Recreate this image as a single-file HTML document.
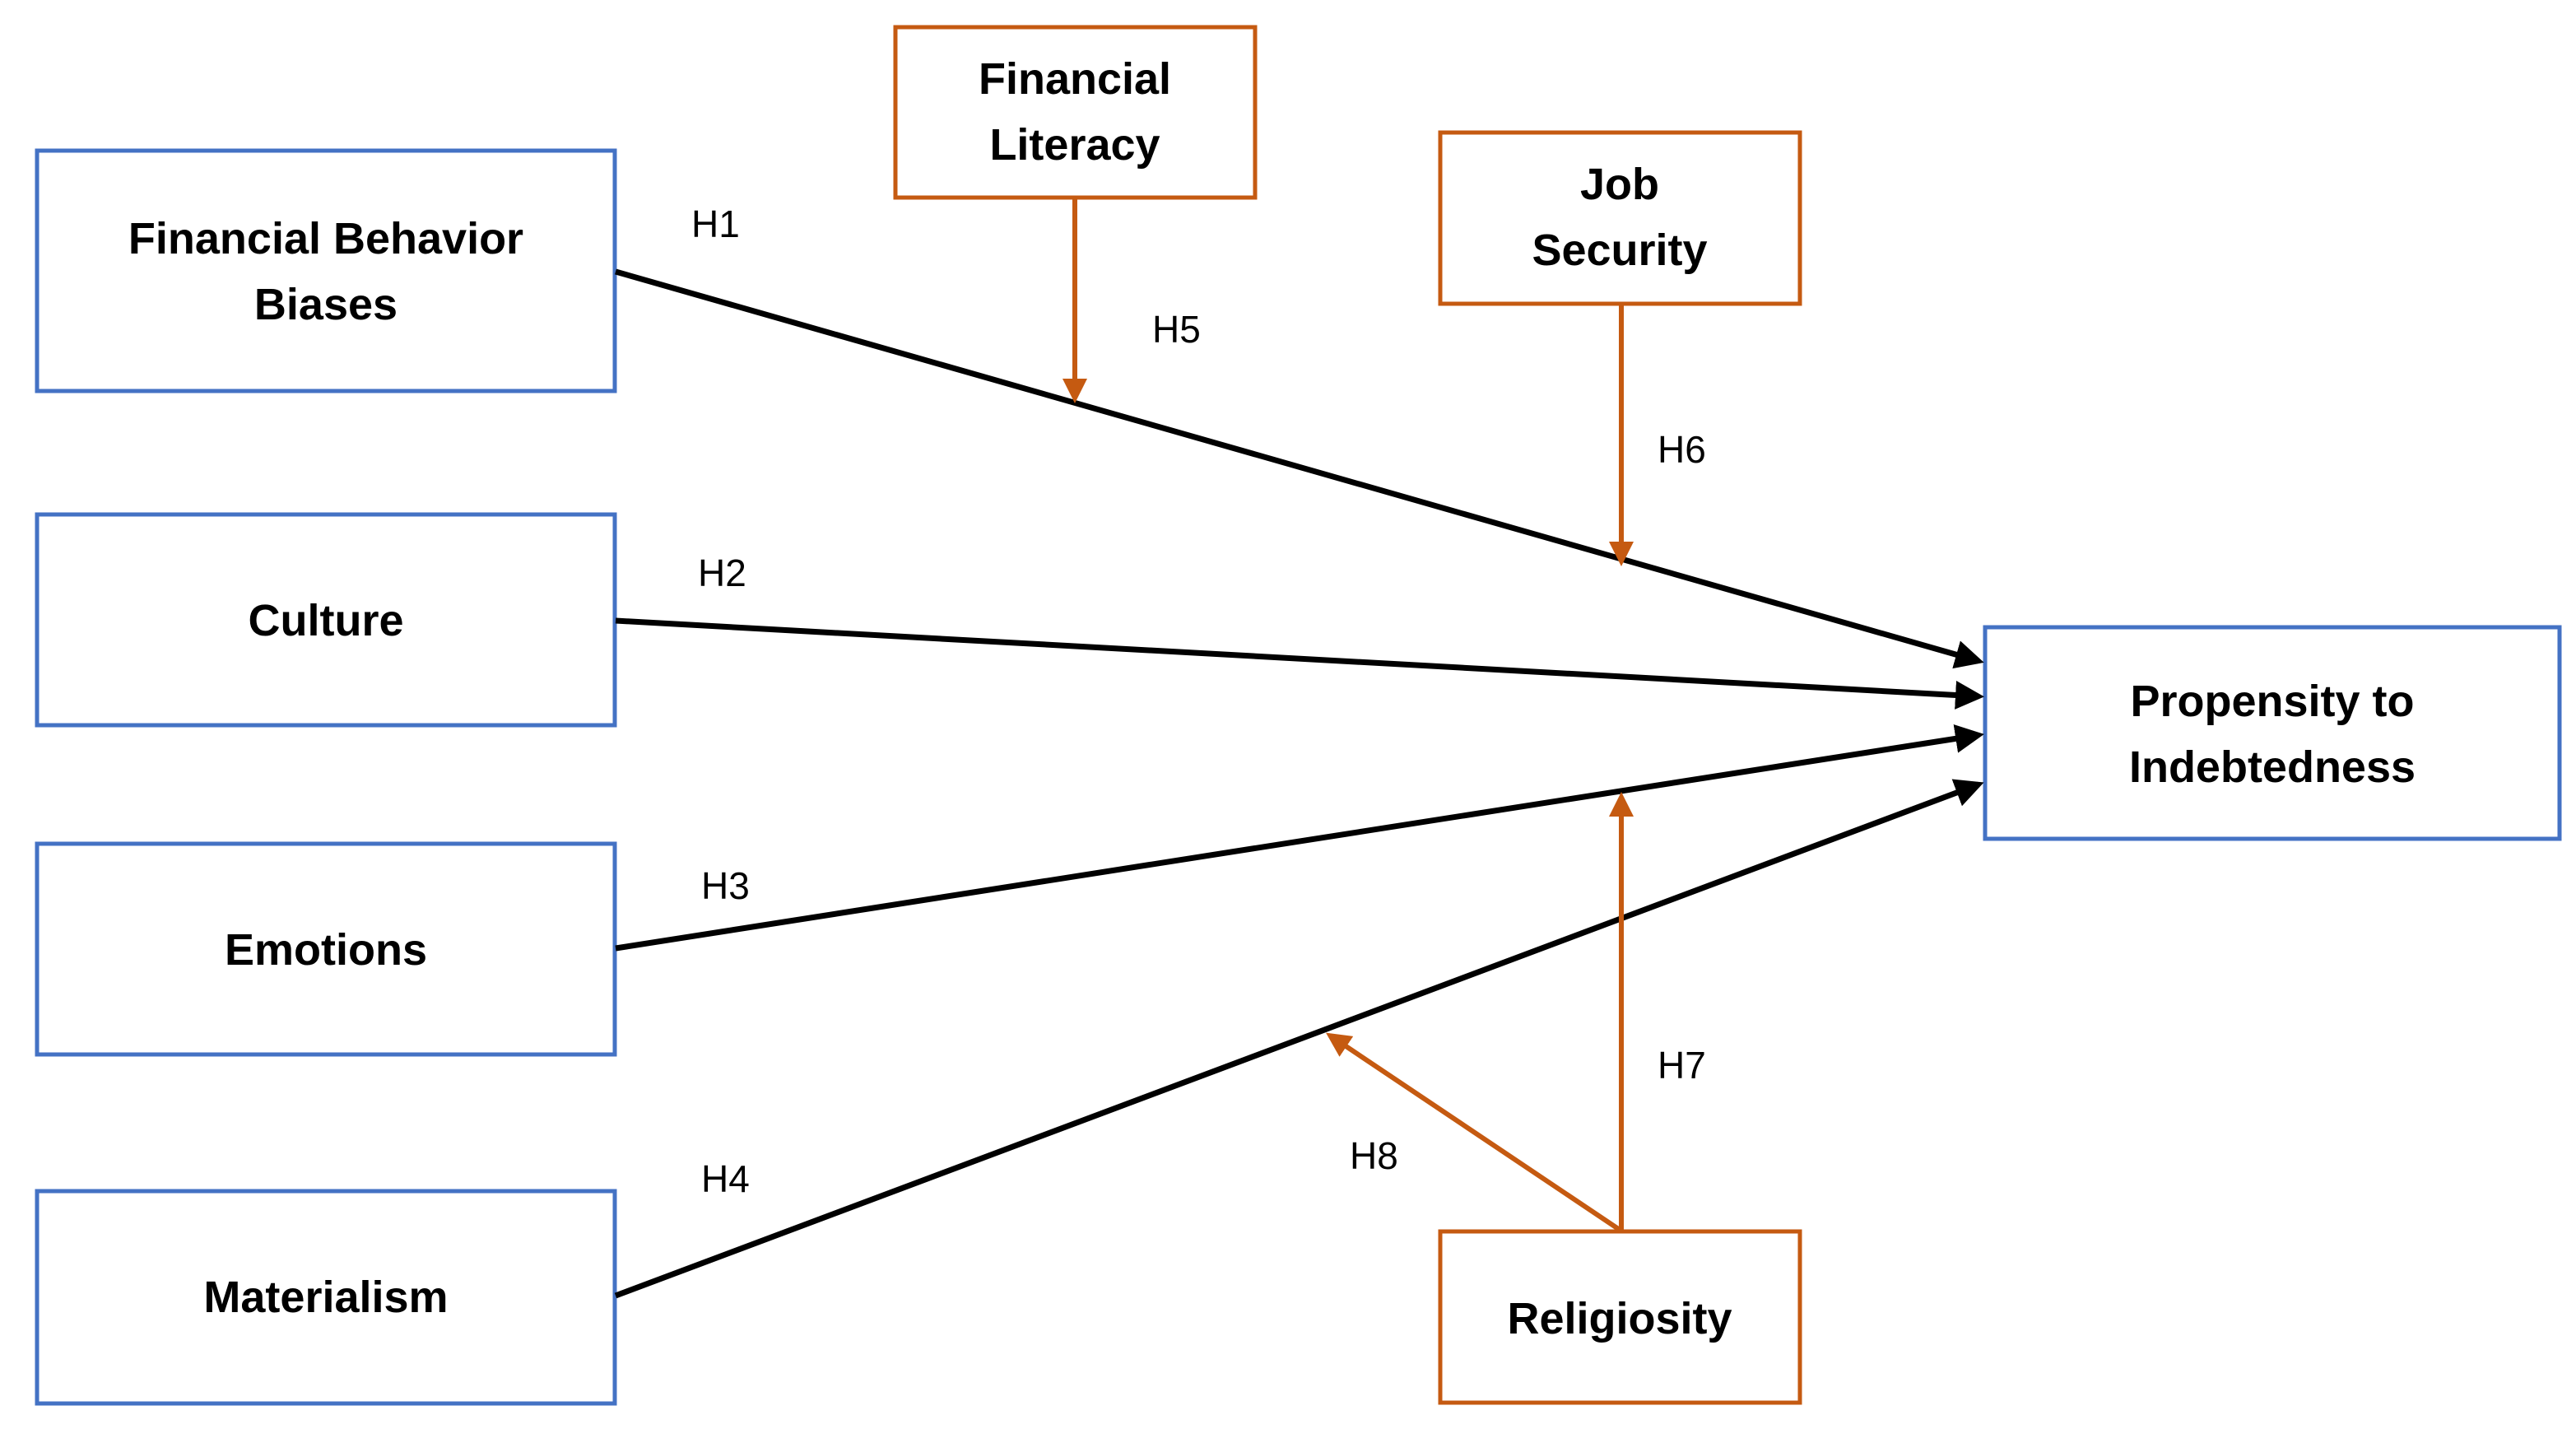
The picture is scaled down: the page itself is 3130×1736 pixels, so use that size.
<!DOCTYPE html>
<html><head><meta charset="utf-8"><style>
html,body{margin:0;padding:0;background:#fff;}
svg{display:block;}
.b{font-family:"Liberation Sans",sans-serif;font-weight:bold;font-size:54px;fill:#000;text-anchor:middle;}
.h{font-family:"Liberation Sans",sans-serif;font-size:46px;fill:#000;}
</style></head><body>
<svg width="3130" height="1736" viewBox="0 0 3130 1736" xmlns="http://www.w3.org/2000/svg">
<defs>
<marker id="ab" markerWidth="5" markerHeight="5" refX="4" refY="2.5" orient="auto" markerUnits="strokeWidth"><path d="M0,0 L5,2.5 L0,5 z" fill="#000"/></marker>
<marker id="ao" markerWidth="5" markerHeight="5" refX="4" refY="2.5" orient="auto" markerUnits="strokeWidth"><path d="M0,0 L5,2.5 L0,5 z" fill="#C55A11"/></marker>
</defs>
<g fill="#fff" stroke="#4472C4" stroke-width="5">
<rect x="45" y="183" width="702" height="292"/>
<rect x="45" y="625" width="702" height="256"/>
<rect x="45" y="1025" width="702" height="256"/>
<rect x="45" y="1447" width="702" height="258"/>
<rect x="2412" y="762" width="698" height="257"/>
</g>
<g fill="#fff" stroke="#C55A11" stroke-width="5">
<rect x="1088" y="33" width="437" height="207"/>
<rect x="1750" y="161" width="437" height="208"/>
<rect x="1750" y="1496" width="437" height="208"/>
</g>
<g stroke="#000" stroke-width="7" fill="none">
<line x1="748" y1="330" x2="2404" y2="803" marker-end="url(#ab)"/>
<line x1="748" y1="754" x2="2404" y2="846" marker-end="url(#ab)"/>
<line x1="748" y1="1152" x2="2404" y2="893" marker-end="url(#ab)"/>
<line x1="748" y1="1574" x2="2404" y2="953" marker-end="url(#ab)"/>
</g>
<g stroke="#C55A11" stroke-width="6" fill="none">
<line x1="1306" y1="240" x2="1306" y2="484" marker-end="url(#ao)"/>
<line x1="1970" y1="369" x2="1970" y2="682" marker-end="url(#ao)"/>
<line x1="1970" y1="1496" x2="1970" y2="968" marker-end="url(#ao)"/>
<line x1="1968" y1="1494" x2="1616" y2="1258" marker-end="url(#ao)"/>
</g>
<text class="b" x="396" y="308">Financial Behavior</text>
<text class="b" x="396" y="388">Biases</text>
<text class="b" x="396" y="772">Culture</text>
<text class="b" x="396" y="1172">Emotions</text>
<text class="b" x="396" y="1594">Materialism</text>
<text class="b" x="2761" y="870">Propensity to</text>
<text class="b" x="2761" y="950">Indebtedness</text>
<text class="b" x="1306" y="114">Financial</text>
<text class="b" x="1306" y="194">Literacy</text>
<text class="b" x="1968" y="242">Job</text>
<text class="b" x="1968" y="322">Security</text>
<text class="b" x="1968" y="1620">Religiosity</text>
<text class="h" x="840" y="288">H1</text>
<text class="h" x="848" y="712">H2</text>
<text class="h" x="852" y="1092">H3</text>
<text class="h" x="852" y="1448">H4</text>
<text class="h" x="1400" y="416">H5</text>
<text class="h" x="2014" y="562">H6</text>
<text class="h" x="2014" y="1310">H7</text>
<text class="h" x="1640" y="1420">H8</text>
</svg>
</body></html>
